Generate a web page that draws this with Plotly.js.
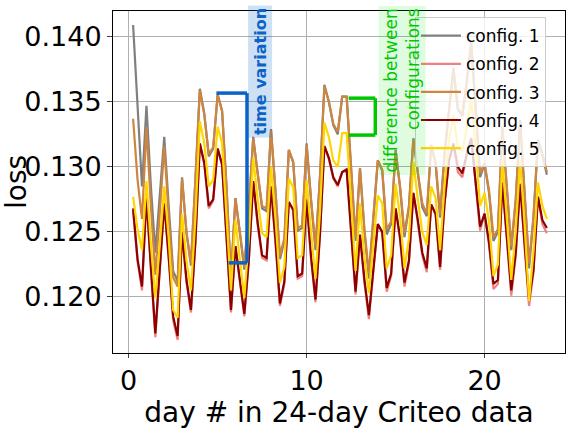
<!DOCTYPE html>
<html><head><meta charset="utf-8">
<script src="https://cdn.plot.ly/plotly-3.0.1.min.js"></script>
<style>html,body{margin:0;padding:0;background:#fff}#chart{width:577px;height:433px}</style>
</head><body><div id="chart"></div>
<script>
const days = [0.25,0.5,0.75,1.0,1.25,1.5,1.75,2.0,2.25,2.5,2.75,3.0,3.25,3.5,3.75,4.0,4.25,4.5,4.75,5.0,
5.25,5.5,5.75,6.0,6.25,6.5,6.75,7.0,7.25,7.5,7.75,8.0,8.25,8.5,8.75,9.0,9.25,9.5,9.75,10.0,
10.25,10.5,10.75,11.0,11.25,11.5,11.75,12.0,12.25,12.5,12.75,13.0,13.25,13.5,13.75,14.0,14.25,14.5,14.75,15.0,
15.25,15.5,15.75,16.0,16.25,16.5,16.75,17.0,17.25,17.5,17.75,18.0,18.25,18.5,18.75,19.0,19.25,19.5,19.75,20.0,
20.25,20.5,20.75,21.0,21.25,21.5,21.75,22.0,22.25,22.5,22.75,23.0,23.25,23.5];

const config1 = [0.1409,0.1345,0.1285,0.1347,0.1285,0.1234,0.1280,0.1323,0.1270,0.1220,
0.1212,0.1292,0.1249,0.1224,0.1290,0.1360,0.1341,0.1308,0.1314,0.1356,
0.1343,0.1284,0.1214,0.1276,0.1249,0.1221,0.1267,0.1323,0.1295,0.1268,
0.1266,0.1329,0.1281,0.1229,0.1243,0.1313,0.1303,0.1251,0.1253,0.1318,
0.1274,0.1236,0.1292,0.1363,0.1350,0.1332,0.1325,0.1354,0.1354,0.1299,
0.1243,0.1299,0.1250,0.1214,0.1261,0.1305,0.1297,0.1248,0.1256,0.1313,
0.1284,0.1246,0.1269,0.1322,0.1295,0.1269,0.1262,0.1317,0.1302,0.1261,
0.1310,0.1345,0.1376,0.1344,0.1339,0.1366,0.1396,0.1344,0.1292,0.1302,
0.1280,0.1243,0.1250,0.1331,0.1284,0.1236,0.1274,0.1336,0.1279,0.1222,
0.1261,0.1321,0.1309,0.1294];

const config2 = [0.1266,0.1227,0.1205,0.1277,0.1221,0.1169,0.1221,0.1272,0.1229,0.1182,
0.1167,0.1250,0.1211,0.1188,0.1242,0.1318,0.1302,0.1268,0.1274,0.1314,
0.1301,0.1244,0.1188,0.1239,0.1211,0.1185,0.1227,0.1289,0.1255,0.1230,
0.1228,0.1285,0.1242,0.1193,0.1210,0.1273,0.1266,0.1214,0.1216,0.1275,
0.1229,0.1196,0.1247,0.1316,0.1306,0.1291,0.1285,0.1296,0.1297,0.1250,
0.1202,0.1247,0.1211,0.1183,0.1221,0.1256,0.1249,0.1204,0.1216,0.1268,
0.1244,0.1208,0.1226,0.1280,0.1257,0.1232,0.1219,0.1271,0.1263,0.1221,
0.1271,0.1304,0.1317,0.1296,0.1292,0.1309,0.1322,0.1287,0.1251,0.1264,
0.1240,0.1206,0.1210,0.1287,0.1243,0.1201,0.1231,0.1287,0.1238,0.1193,
0.1219,0.1277,0.1256,0.1249];

const config3 = [0.1337,0.1290,0.1260,0.1330,0.1270,0.1217,0.1265,0.1316,0.1262,0.1215,
0.1208,0.1291,0.1250,0.1226,0.1290,0.1359,0.1340,0.1310,0.1315,0.1355,
0.1343,0.1285,0.1216,0.1276,0.1250,0.1223,0.1268,0.1322,0.1295,0.1270,
0.1268,0.1328,0.1282,0.1232,0.1245,0.1313,0.1304,0.1253,0.1255,0.1317,
0.1275,0.1239,0.1292,0.1362,0.1350,0.1333,0.1327,0.1354,0.1354,0.1300,
0.1246,0.1299,0.1252,0.1218,0.1262,0.1305,0.1298,0.1252,0.1258,0.1312,
0.1285,0.1249,0.1270,0.1321,0.1296,0.1272,0.1264,0.1316,0.1303,0.1264,
0.1310,0.1345,0.1375,0.1345,0.1340,0.1365,0.1395,0.1345,0.1295,0.1303,
0.1282,0.1246,0.1252,0.1330,0.1285,0.1239,0.1275,0.1335,0.1280,0.1226,
0.1262,0.1320,0.1310,0.1296];

const config4 = [0.1268,0.1229,0.1208,0.1277,0.1223,0.1172,0.1222,0.1272,0.1231,0.1185,
0.1170,0.1250,0.1213,0.1190,0.1242,0.1318,0.1303,0.1270,0.1275,0.1314,
0.1302,0.1246,0.1190,0.1239,0.1213,0.1187,0.1228,0.1289,0.1257,0.1232,
0.1230,0.1285,0.1244,0.1195,0.1212,0.1273,0.1267,0.1216,0.1218,0.1275,
0.1231,0.1198,0.1248,0.1316,0.1307,0.1292,0.1286,0.1296,0.1298,0.1252,
0.1204,0.1248,0.1213,0.1186,0.1223,0.1256,0.1250,0.1207,0.1218,0.1268,
0.1246,0.1211,0.1228,0.1280,0.1259,0.1234,0.1222,0.1271,0.1264,0.1223,
0.1272,0.1305,0.1318,0.1300,0.1295,0.1310,0.1322,0.1290,0.1254,0.1264,
0.1242,0.1210,0.1213,0.1288,0.1246,0.1205,0.1234,0.1287,0.1241,0.1198,
0.1221,0.1277,0.1259,0.1253];

const config5 = [0.1277,0.1252,0.1236,0.1289,0.1240,0.1199,0.1240,0.1285,0.1245,0.1190,
0.1184,0.1264,0.1228,0.1205,0.1260,0.1335,0.1318,0.1285,0.1290,0.1331,
0.1318,0.1262,0.1205,0.1259,0.1228,0.1199,0.1245,0.1307,0.1275,0.1249,
0.1246,0.1300,0.1260,0.1211,0.1223,0.1291,0.1284,0.1230,0.1232,0.1290,
0.1250,0.1214,0.1265,0.1334,0.1323,0.1305,0.1300,0.1326,0.1326,0.1272,
0.1220,0.1272,0.1230,0.1203,0.1240,0.1278,0.1272,0.1222,0.1232,0.1287,
0.1262,0.1222,0.1245,0.1304,0.1275,0.1250,0.1240,0.1285,0.1276,0.1236,
0.1285,0.1320,0.1340,0.1315,0.1312,0.1330,0.1352,0.1315,0.1270,0.1280,
0.1258,0.1216,0.1225,0.1305,0.1260,0.1213,0.1250,0.1305,0.1255,0.1197,
0.1235,0.1288,0.1270,0.1260];

const seriesNames = ['config. 1','config. 2','config. 3','config. 4','config. 5'];
const seriesData = [config1, config2, config3, config4, config5];
const seriesColors = ['#808080','#f08080','#cd853f','#8b0000','#ffd700'];

const xTicks = [0, 10, 20];
const yTicks = [0.120, 0.125, 0.130, 0.135, 0.140];

// annotation anchors (data units)
const timeBracket = {x0: 4.93, x1: 6.65, xb: 5.62, yTop: 0.13567, yBot: 0.12262};
const diffBracket = {x0: 12.36, x1: 13.86, yTop: 0.13528, yBot: 0.13244};

const traces = seriesData.map((ys, i) => ({
  x: days, y: ys, type: 'scatter', mode: 'lines', name: seriesNames[i],
  legendgroup: 'g' + i,
  line: {color: seriesColors[i], width: 2.2}
}));

const blue = '#0a64c8';
const green = '#00c800';
const shapes = [
  {type:'line', xref:'x', yref:'y', x0: timeBracket.x0, x1: timeBracket.x1, y0: timeBracket.yTop, y1: timeBracket.yTop, line:{color:blue, width:3.5}},
  {type:'line', xref:'x', yref:'y', x0: timeBracket.x1, x1: timeBracket.x1, y0: timeBracket.yTop, y1: timeBracket.yBot, line:{color:blue, width:3.5}},
  {type:'line', xref:'x', yref:'y', x0: timeBracket.xb, x1: timeBracket.x1, y0: timeBracket.yBot, y1: timeBracket.yBot, line:{color:blue, width:3.5}},
  {type:'line', xref:'x', yref:'y', x0: diffBracket.x0, x1: diffBracket.x1, y0: diffBracket.yTop, y1: diffBracket.yTop, line:{color:green, width:3.5}},
  {type:'line', xref:'x', yref:'y', x0: diffBracket.x1, x1: diffBracket.x1, y0: diffBracket.yTop, y1: diffBracket.yBot, line:{color:green, width:3.5}},
  {type:'line', xref:'x', yref:'y', x0: diffBracket.x0, x1: diffBracket.x1, y0: diffBracket.yBot, y1: diffBracket.yBot, line:{color:green, width:3.5}}
];

const annotations = [
  {xref:'x', yref:'y', x: 7.4, y: 0.13731, text:'<b>time variation</b>', textangle:-90, showarrow:false,
   font:{family:'DejaVu Sans', size:16, color:blue}, bgcolor:'rgba(10,100,200,0.2)', borderpad:2, xanchor:'center', yanchor:'middle'},
  {xref:'x', yref:'y', x: 15.35, y: 0.13585, text:'difference between<br>configurations', textangle:-90, showarrow:false, align:'right',
   font:{family:'DejaVu Sans', size:17, color:green}, bgcolor:'rgba(0,230,0,0.12)', borderpad:2, xanchor:'center', yanchor:'middle'}
];

const layout = {
  width: 577, height: 433,
  margin: {l: 113, r: 12, t: 11, b: 80},
  paper_bgcolor: '#ffffff', plot_bgcolor: '#ffffff',
  font: {family: 'DejaVu Sans', color: '#000000'},
  showlegend: true,
  legend: {x: 0.668, y: 0.982, xanchor: 'left', yanchor: 'top', bgcolor: 'rgba(255,255,255,0.8)',
           bordercolor: '#cccccc', borderwidth: 1, font: {size: 17, color: '#000'}, tracegroupgap: 3, itemwidth: 40},
  xaxis: {range: [-0.88, 24.52], tickvals: xTicks, ticktext: xTicks.map(String), ticks: 'outside', ticklen: 4,
          tickfont: {size: 27}, showgrid: true, gridcolor: '#b0b0b0', gridwidth: 1, zeroline: false,
          showline: true, linecolor: '#000', linewidth: 1, mirror: true,
          title: {text: 'day # in 24-day Criteo data', font: {size: 28}, standoff: 0}},
  yaxis: {range: [0.11569, 0.14198], tickvals: yTicks, ticktext: yTicks.map(v => v.toFixed(3)), ticks: 'outside', ticklen: 5,
          tickfont: {size: 27}, showgrid: true, gridcolor: '#b0b0b0', gridwidth: 1, zeroline: false,
          showline: true, linecolor: '#000', linewidth: 1, mirror: true,
          title: {text: 'loss', font: {size: 28}, standoff: 1}},
  shapes: shapes,
  annotations: annotations
};

Plotly.newPlot('chart', traces, layout, {displayModeBar: false, staticPlot: true});
</script>
</body></html>
